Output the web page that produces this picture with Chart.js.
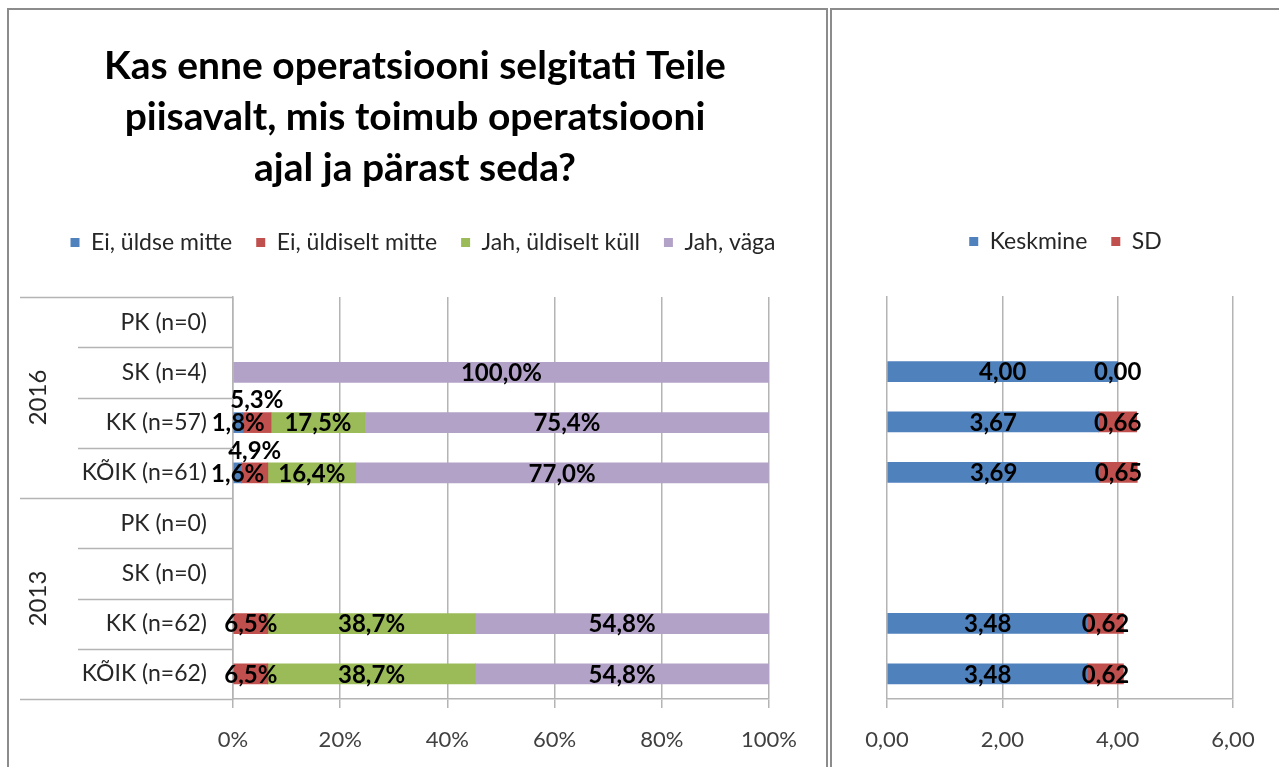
<!DOCTYPE html>
<html>
<head>
<meta charset="utf-8">
<script src="https://cdn.jsdelivr.net/npm/chart.js@4.4.0/dist/chart.umd.min.js"></script>
<style>
  html, body { margin: 0; padding: 0; background: #fff; overflow: hidden; }
  body { width: 1279px; height: 767px; position: relative; }
  #leftPanel { position: absolute; left: 7px; top: 8px; width: 817px; height: 770px; border: 2px solid #8c8c8c; border-bottom: none; }
  #rightPanel { position: absolute; left: 830px; top: 8px; width: 470px; height: 770px; border: 2px solid #8c8c8c; border-bottom: none; }
  #leftBox { position: absolute; left: 0; top: 0; width: 817px; height: 757px; }
  #rightBox { position: absolute; left: 0; top: 0; width: 447px; height: 757px; }
</style>
</head>
<body>
<div id="leftPanel"><div id="leftBox"><canvas id="leftChart"></canvas></div></div>
<div id="rightPanel"><div id="rightBox"><canvas id="rightChart"></canvas></div></div>
<script>
const FONT = "Lato, 'Open Sans', sans-serif";

const titleLines = [
  "Kas enne operatsiooni selgitati Teile",
  "piisavalt, mis toimub operatsiooni",
  "ajal ja pärast seda?"
];

// categories, top to bottom
const years = ["2016", "2013"];
const categories = [
  "PK (n=0)", "SK (n=4)", "KK (n=57)", "KÕIK (n=61)",
  "PK (n=0)", "SK (n=0)", "KK (n=62)", "KÕIK (n=62)"
];

// answer shares in percent (null = no bar)
const answerNames = ["Ei, üldse mitte", "Ei, üldiselt mitte", "Jah, üldiselt küll", "Jah, väga"];
const eiUldse    = [null, null, 1.8, 1.6, null, null, null, null];
const eiUldiselt = [null, null, 5.3, 4.9, null, null, 6.5, 6.5];
const jahUldiselt = [null, null, 17.5, 16.4, null, null, 38.7, 38.7];
const jahVaga    = [null, 100.0, 75.4, 77.0, null, null, 54.8, 54.8];
const answerColors = ["#4F81BD", "#C0504D", "#9BBB59", "#B3A2C7"];

// mean and standard deviation
const keskmine = [null, 4.00, 3.67, 3.69, null, null, 3.48, 3.48];
const sd       = [null, 0.00, 0.66, 0.65, null, null, 0.62, 0.62];

const pctTicks = [0, 20, 40, 60, 80, 100];
const meanTicks = [0, 2, 4, 6];

const GRID = "#b4b4b4";
const TEXT = "#262626";

function fmt(v, digits) {
  return v.toFixed(digits).replace(".", ",");
}

// put some extra space under the legend
function legendSpace(extra) {
  return {
    id: "legendSpace",
    beforeInit(chart) {
      const fit = chart.legend.fit;
      chart.legend.fit = function () {
        fit.bind(chart.legend)();
        this.height += extra;
      };
    }
  };
}

// slide title / legend sideways (the plot area is not centred in the panel)
function shiftBoxes(titleDx, legendDx) {
  return {
    id: "shiftBoxes",
    afterLayout(chart) {
      if (chart.titleBlock) { chart.titleBlock.left += titleDx; chart.titleBlock.right += titleDx; }
      if (chart.legend) { chart.legend.left += legendDx; chart.legend.right += legendDx; }
    }
  };
}

// value labels centred on each segment
function valueLabels(digits, suffix, lifted) {
  return {
    id: "valueLabels",
    afterDatasetsDraw(chart) {
      const ctx = chart.ctx;
      ctx.save();
      ctx.font = "bold 24px " + FONT;
      ctx.fillStyle = "#000";
      ctx.textAlign = "center";
      ctx.textBaseline = "middle";
      chart.data.datasets.forEach((ds, di) => {
        const meta = chart.getDatasetMeta(di);
        meta.data.forEach((bar, i) => {
          const v = ds.data[i];
          if (v === null || v === undefined) return;
          let x = (bar.x + bar.base) / 2;
          let y = bar.y + 1;
          if (lifted && lifted(di, i)) y -= 23;
          ctx.fillText(fmt(v, digits) + suffix, x, y);
        });
      });
      ctx.restore();
    }
  };
}

// year groups and separators on the category axis
const groupAxis = {
  id: "groupAxis",
  afterDraw(chart) {
    const ctx = chart.ctx;
    const ys = chart.scales.y;
    const step = (ys.bottom - ys.top) / categories.length;
    const left = ys.right;
    ctx.save();
    ctx.strokeStyle = GRID;
    ctx.lineWidth = 1.5;
    for (let k = 0; k <= categories.length; k++) {
      const y = Math.round(ys.top + k * step) + 0.5;
      const outer = k % 4 === 0;
      ctx.beginPath();
      ctx.moveTo(outer ? 11 : 69, y);
      ctx.lineTo(left, y);
      ctx.stroke();
    }
    ctx.fillStyle = TEXT;
    ctx.font = "24px " + FONT;
    ctx.textAlign = "center";
    ctx.textBaseline = "middle";
    years.forEach((yr, g) => {
      const cy = ys.top + (g * 4 + 2) * step;
      ctx.save();
      ctx.translate(29, cy);
      ctx.rotate(-Math.PI / 2);
      ctx.fillText(yr, 0, 0);
      ctx.restore();
    });
    ctx.restore();
  }
};

const legendLabels = {
  color: TEXT,
  font: { family: FONT, size: 23 },
  boxWidth: 9,
  boxHeight: 9,
  padding: 24
};

const leftChart = new Chart(document.getElementById("leftChart"), {
  type: "bar",
  data: {
    labels: categories,
    datasets: [eiUldse, eiUldiselt, jahUldiselt, jahVaga].map((d, i) => ({
      label: answerNames[i],
      data: d,
      backgroundColor: answerColors[i],
      barThickness: 20
    }))
  },
  options: {
    indexAxis: "y",
    responsive: true,
    maintainAspectRatio: false,
    animation: false,
    layout: { padding: { left: 0, right: 57, top: 0, bottom: 0 } },
    plugins: {
      tooltip: { enabled: false },
      title: {
        display: true,
        text: titleLines,
        color: "#000",
        font: { family: FONT, size: 39, weight: "bold", lineHeight: 51 / 39 },
        padding: { top: 30.5, bottom: 13.5 }
      },
      legend: { position: "top", labels: legendLabels }
    },
    scales: {
      x: {
        stacked: true,
        min: 0,
        max: 100,
        afterBuildTicks(scale) {
          scale.ticks = pctTicks.map(v => ({ value: v }));
        },
        afterFit(scale) { scale.height = 68; },
        grid: { color: GRID, lineWidth: 1.5, tickLength: 9 },
        border: { color: GRID, width: 1.5 },
        ticks: {
          color: "#404040",
          font: { family: FONT, size: 22 },
          padding: 19,
          callback: v => v + "%"
        }
      },
      y: {
        stacked: true,
        afterFit(scale) { scale.width = 224; },
        grid: { display: false, drawTicks: false },
        border: { color: GRID, width: 1.5 },
        ticks: {
          color: TEXT,
          font: { family: FONT, size: 23 },
          padding: 26,
          autoSkip: false
        }
      }
    }
  },
  plugins: [legendSpace(33), shiftBoxes(26, 34), valueLabels(1, "%", (di, i) => di === 1 && eiUldse[i] !== null), groupAxis]
});

const rightChart = new Chart(document.getElementById("rightChart"), {
  type: "bar",
  data: {
    labels: categories,
    datasets: [
      { label: "Keskmine", data: keskmine, backgroundColor: "#4F81BD", barThickness: 20 },
      { label: "SD", data: sd, backgroundColor: "#C0504D", barThickness: 20 }
    ]
  },
  options: {
    indexAxis: "y",
    responsive: true,
    maintainAspectRatio: false,
    animation: false,
    layout: { padding: { left: 0, right: 46, top: 196, bottom: 0 } },
    plugins: {
      tooltip: { enabled: false },
      title: { display: false },
      legend: { position: "top", labels: legendLabels }
    },
    scales: {
      x: {
        stacked: true,
        min: 0,
        max: 6,
        afterBuildTicks(scale) {
          scale.ticks = meanTicks.map(v => ({ value: v }));
        },
        afterFit(scale) { scale.height = 68; },
        grid: { color: GRID, lineWidth: 1.5, tickLength: 9 },
        border: { color: GRID, width: 1.5 },
        ticks: {
          color: "#404040",
          font: { family: FONT, size: 22 },
          padding: 19,
          callback: v => fmt(v, 2)
        }
      },
      y: {
        stacked: true,
        afterFit(scale) { scale.width = 55; },
        grid: { display: false, drawTicks: false },
        border: { display: false },
        ticks: { display: false }
      }
    }
  },
  plugins: [legendSpace(33), shiftBoxes(0, 33), valueLabels(2, "")]
});
</script>
</body>
</html>
